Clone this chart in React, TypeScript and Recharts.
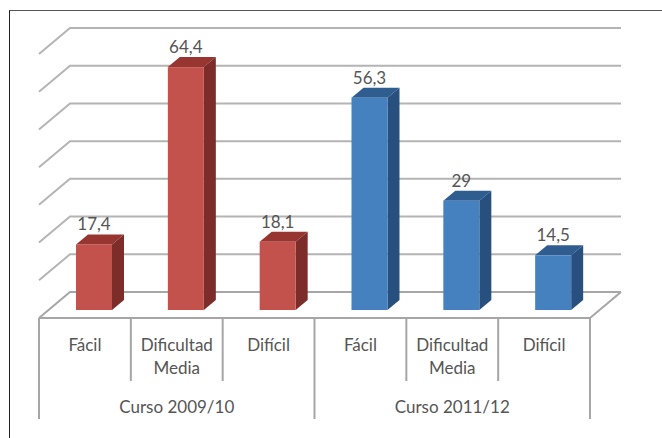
import React from 'react'
import { Bar, BarChart, CartesianGrid, LabelList, XAxis, YAxis } from 'recharts'

const dificultad = ['Fácil', 'Dificultad Media', 'Difícil', 'Fácil', 'Dificultad Media', 'Difícil']
const cursos = ['Curso 2009/10', 'Curso 2009/10', 'Curso 2009/10', 'Curso 2011/12', 'Curso 2011/12', 'Curso 2011/12']
const porcentaje = [17.4, 64.4, 18.1, 56.3, 29, 14.5]
const yTicks = [0, 10, 20, 30, 40, 50, 60, 70]

const rows = dificultad.map((d, i) => ({ dificultad: d, curso: cursos[i], valor: porcentaje[i] }))

const RED = { front: '#c4524c', top: '#973531', side: '#7c2c29' }
const BLUE = { front: '#4580bf', top: '#2f5d90', side: '#28507e' }

const GRID = '#b4b4b4'
const AXIS = '#a6a6a6'
const TEXT = '#555555'
const FONT = 'Lato, "Open Sans", sans-serif'

// desplazamiento de la pared del fondo respecto al plano de las barras
const WALL_DX = 31
const WALL_DY = 18
const FLOOR_DY = 26
const BAR_SHIFT = 9
const BAR_DX = 12
const BAR_DY = 10
const BAND = 551 / 6

function GridLine(props: any) {
  const { x1, x2, y1 } = props
  const back = y1 - WALL_DY
  const isFloor = Math.abs(y1 - 310) < 1
  return (
    <g fill="none" strokeWidth={2}>
      <polyline points={`${x1},${back + FLOOR_DY} ${x1 + WALL_DX},${back} ${x2 + WALL_DX},${back}`} stroke={isFloor ? AXIS : GRID} />
      {isFloor && <polyline points={`${x1},${back + FLOOR_DY} ${x2},${back + FLOOR_DY} ${x2 + WALL_DX},${back}`} stroke={AXIS} />}
    </g>
  )
}

function Bar3D(props: any) {
  const { x, y, width, height, index } = props
  const c = index < 3 ? RED : BLUE
  const l = x + BAR_SHIFT
  const r = l + width
  const b = y + height
  return (
    <g>
      <polygon points={`${l},${y} ${l + BAR_DX},${y - BAR_DY} ${r + BAR_DX},${y - BAR_DY} ${r},${y}`} fill={c.top} />
      <polygon points={`${r},${y} ${r + BAR_DX},${y - BAR_DY} ${r + BAR_DX},${b - BAR_DY} ${r},${b}`} fill={c.side} />
      <rect x={l} y={y} width={width} height={height} fill={c.front} />
    </g>
  )
}

function ValueLabel(props: any) {
  const { x, y, width, value } = props
  return (
    <text x={x + width / 2 + BAR_SHIFT} y={y - 14} textAnchor="middle" fontSize={17} fontFamily={FONT} fill={TEXT}>
      {String(value).replace('.', ',')}
    </text>
  )
}

function CategoryTick(props: any) {
  const { x, payload, index } = props
  const words = index === undefined ? [] : payload.value.split(' ')
  return (
    <g>
      {index % 3 !== 0 && <line x1={x - BAND / 2} x2={x - BAND / 2} y1={318} y2={381} stroke={AXIS} strokeWidth={2} />}
      {words.map((w: string, i: number) => (
        <text key={i} x={x} y={351 + i * 23} textAnchor="middle" fontSize={17} fontFamily={FONT} fill={TEXT}>{w}</text>
      ))}
    </g>
  )
}

function CursoTick(props: any) {
  const { x, payload, index } = props
  return (
    <g>
      {index % 3 === 0 && <line x1={x - BAND / 2} x2={x - BAND / 2} y1={318} y2={419} stroke={AXIS} strokeWidth={2} />}
      {index === 5 && <line x1={x + BAND / 2} x2={x + BAND / 2} y1={318} y2={419} stroke={AXIS} strokeWidth={2} />}
      {index % 3 === 1 && (
        <text x={x} y={413} textAnchor="middle" fontSize={17} fontFamily={FONT} fill={TEXT}>{payload.value}</text>
      )}
    </g>
  )
}

export default function App() {
  return (
    <div style={{ position: 'absolute', left: 0, top: 0, width: 662, height: 438, background: '#fff', overflow: 'hidden' }}>
      <div style={{ position: 'absolute', left: 9, top: 10, right: 0, bottom: 0, borderLeft: '1.5px solid #222', borderTop: '1.5px solid #555' }} />
      <BarChart
        width={662}
        height={438}
        data={rows}
        margin={{ top: 46, right: 72, bottom: 16, left: 39 }}
        barSize={36}
        style={{ position: 'absolute', left: 0, top: 0 }}
      >
        <CartesianGrid vertical={false} horizontal={(p: any) => <GridLine key={p.key ?? p.index} {...p} />} />
        <YAxis hide domain={[0, 70]} ticks={yTicks} />
        <XAxis xAxisId={0} dataKey="dificultad" height={72} interval={0} axisLine={false} tickLine={false} tick={(p: any) => <CategoryTick {...p} />} />
        <XAxis xAxisId={1} dataKey="curso" height={40} interval={0} axisLine={false} tickLine={false} tick={(p: any) => <CursoTick {...p} />} />
        <Bar dataKey="valor" xAxisId={0} shape={(p: any) => <Bar3D {...p} />} isAnimationActive={false}>
          <LabelList dataKey="valor" content={(p: any) => <ValueLabel {...p} />} />
        </Bar>
      </BarChart>
    </div>
  )
}
